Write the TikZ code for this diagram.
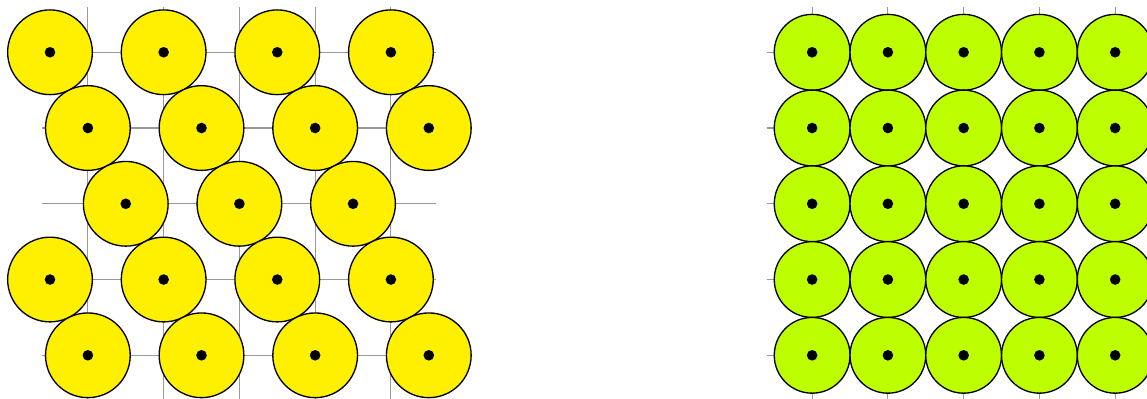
\documentclass[tikz,border=0pt]{standalone}
\usepackage{tikz}
\definecolor{discyellow}{RGB}{255,240,0}
\definecolor{disclime}{RGB}{190,255,0}
\tikzset{
    lattice/.style={black!40, line width=0.4pt},
    hexdisc/.style={draw=black, fill=discyellow, line width=0.5pt},
    sqdisc/.style={draw=black, fill=disclime, line width=0.5pt},
    centre/.style={fill=black},
}

\begin{document}
\begin{tikzpicture}
    \clip (-1.16,-4.57) rectangle (13.98,0.69);
    % hexagonal packing
    \draw[lattice] (-0.6,-4.6) grid (4.6,0.6);
    \foreach \row/\xs in {0/{-0.5,1,2.5,4}, 1/{0,1.5,3,4.5}, 2/{0.5,2,3.5}, 3/{-0.5,1,2.5,4}, 4/{0,1.5,3,4.5}}
        \foreach \x in \xs {
            \draw[hexdisc] (\x,-\row) circle (0.559);
            \fill[centre] (\x,-\row) circle (0.07);
        };
    % square packing
    \begin{scope}[xshift=9.56cm]
        \draw[lattice] (-0.6,-4.6) grid (4.6,0.6);
        \foreach \i in {0,...,4}
            \foreach \j in {0,...,4} {
                \draw[sqdisc] (\i,-\j) circle (0.5);
                \fill[centre] (\i,-\j) circle (0.07);
            };
    \end{scope}
\end{tikzpicture}
\end{document}
